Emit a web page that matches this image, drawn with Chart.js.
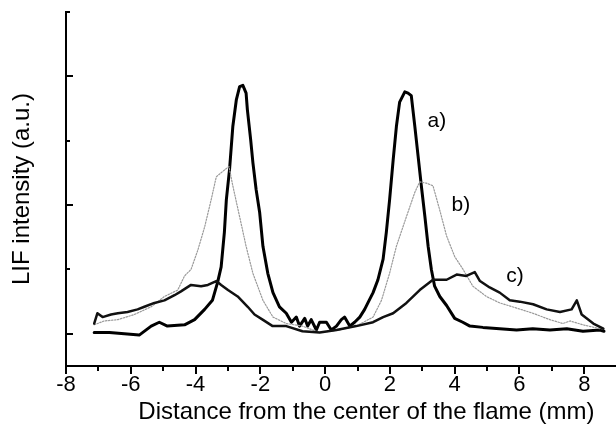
<!DOCTYPE html>
<html>
<head>
<meta charset="utf-8">
<script src="https://cdn.jsdelivr.net/npm/chart.js@4.4.1/dist/chart.umd.min.js"></script>
<style>
  html, body { margin: 0; padding: 0; background: #fff; }
  #wrap { width: 616px; height: 432px; }
</style>
</head>
<body>
<div id="wrap"><canvas id="graficaLIF" width="616" height="432"></canvas></div>
<script>
// curve a) - thick black, sharp peaks
const xA = [-7.13, -6.66, -6.20, -5.74, -5.37, -5.12, -4.87, -4.34, -4.03, -3.72, -3.48, -3.32, -3.21, -3.11, -3.05,
  -2.95, -2.85, -2.74, -2.64, -2.54, -2.44, -2.40, -2.30, -2.23, -2.13, -2.02, -1.92, -1.77, -1.61, -1.41, -1.20,
  -1.04, -0.89, -0.79, -0.63, -0.54, -0.43, -0.27, -0.17, 0.04, 0.19, 0.35, 0.50, 0.60, 0.76, 0.91, 1.07, 1.22,
  1.32, 1.48, 1.63, 1.79, 1.89, 1.99, 2.10, 2.20, 2.30, 2.46, 2.56, 2.66, 2.77, 2.87, 2.97, 3.08, 3.18, 3.28, 3.38,
  3.54, 3.75, 4.00, 4.25, 4.47, 4.87, 5.39, 5.91, 6.41, 6.94, 7.46, 7.96, 8.48, 8.61];
const yA = [0.01, 0.01, 0.00, -0.01, 0.06, 0.09, 0.06, 0.07, 0.11, 0.19, 0.26, 0.40, 0.52, 0.79, 1.04,
  1.28, 1.61, 1.82, 1.92, 1.93, 1.87, 1.74, 1.51, 1.33, 1.12, 0.94, 0.68, 0.47, 0.32, 0.21, 0.16,
  0.09, 0.13, 0.06, 0.12, 0.06, 0.11, 0.03, 0.09, 0.09, 0.03, 0.06, 0.11, 0.13, 0.06, 0.09, 0.13, 0.19,
  0.24, 0.32, 0.42, 0.58, 0.79, 1.04, 1.35, 1.61, 1.80, 1.88, 1.87, 1.85, 1.61, 1.38, 1.15, 0.91, 0.68, 0.50, 0.37,
  0.29, 0.22, 0.12, 0.09, 0.06, 0.05, 0.04, 0.03, 0.04, 0.03, 0.04, 0.02, 0.03, 0.02];

// curve b) - grey dotted
const xB = [-7.13, -6.82, -6.40, -5.89, -5.37, -4.96, -4.55, -4.34, -4.14, -3.93, -3.72, -3.52, -3.36, -3.17, -2.97,
  -2.85, -2.64, -2.44, -2.23, -1.92, -1.61, -1.20, -0.70, -0.17, 0.45, 0.96, 1.48, 1.74, 1.99, 2.20, 2.51, 2.77,
  2.92, 3.13, 3.33, 3.54, 3.75, 4.00, 4.26, 4.56, 4.98, 5.39, 5.91, 6.41, 6.94, 7.34, 7.56, 7.96, 8.48, 8.61];
const yB = [0.07, 0.10, 0.11, 0.15, 0.21, 0.29, 0.34, 0.45, 0.50, 0.65, 0.83, 1.04, 1.22, 1.26, 1.30,
  1.15, 0.91, 0.68, 0.47, 0.26, 0.13, 0.08, 0.06, 0.01, 0.03, 0.06, 0.13, 0.26, 0.47, 0.68, 0.91, 1.10,
  1.18, 1.17, 1.15, 0.96, 0.76, 0.60, 0.50, 0.37, 0.29, 0.24, 0.20, 0.16, 0.11, 0.08, 0.10, 0.07, 0.04, 0.04];

// curve c) - black, broad bumps
const xC = [-7.13, -7.03, -6.87, -6.61, -6.40, -6.10, -5.79, -5.58, -5.27, -4.96, -4.65, -4.45, -4.14, -3.83, -3.62,
  -3.36, -3.21, -3.00, -2.70, -2.39, -2.18, -1.93, -1.62, -1.20, -0.70, -0.17, 0.35, 0.96, 1.48, 1.79, 2.10, 2.51,
  2.92, 3.33, 3.75, 4.06, 4.36, 4.62, 4.78, 5.08, 5.39, 5.70, 6.01, 6.42, 6.84, 7.25, 7.61, 7.77, 7.92, 8.28, 8.59];
const yC = [0.08, 0.16, 0.13, 0.15, 0.16, 0.17, 0.19, 0.21, 0.24, 0.26, 0.30, 0.33, 0.38, 0.37, 0.38,
  0.41, 0.38, 0.34, 0.29, 0.21, 0.15, 0.11, 0.06, 0.06, 0.02, 0.01, 0.03, 0.06, 0.09, 0.13, 0.16, 0.24,
  0.34, 0.42, 0.42, 0.46, 0.45, 0.48, 0.41, 0.36, 0.32, 0.26, 0.25, 0.23, 0.19, 0.17, 0.19, 0.26, 0.15, 0.08, 0.04];

const xTicks = [-8, -6, -4, -2, 0, 2, 4, 6, 8];
const xMinor = [-7, -5, -3, -1, 1, 3, 5, 7, 9];
const yTicks = [0, 1, 2];
const yMinor = [0.5, 1.5, 2.5];
const curveNames = ['a)', 'b)', 'c)'];
const xTitle = 'Distance from the center of the flame (mm)';
const yTitle = 'LIF intensity (a.u.)';

const fontFam = '"Liberation Sans", Arial, Helvetica, sans-serif';
const pares = (xs, ys) => xs.map((v, i) => ({ x: v, y: ys[i] }));

// where the a) b) c) tags sit, in axis units
const tagX = [3.45, 4.19, 5.86];
const tagY = [1.65, 1.0, 0.45];

// hand drawn tick marks (x ticks go down, y ticks go into the plot),
// curve tags and the x title (the original axis runs past the crop, so it is off-centre)
const marcas = {
  id: 'marcas',
  afterDraw(chart) {
    const { ctx, scales: { x, y } } = chart;
    ctx.save();
    ctx.strokeStyle = '#000';
    ctx.lineWidth = 2;
    ctx.beginPath();
    xTicks.forEach(v => { const p = Math.round(x.getPixelForValue(v)); ctx.moveTo(p, x.top); ctx.lineTo(p, x.top + 8); });
    xMinor.forEach(v => { const p = Math.round(x.getPixelForValue(v)); ctx.moveTo(p, x.top); ctx.lineTo(p, x.top + 5); });
    yTicks.forEach(v => { const p = Math.round(y.getPixelForValue(v)); ctx.moveTo(y.right, p); ctx.lineTo(y.right + 7, p); });
    yMinor.forEach(v => { const p = Math.round(y.getPixelForValue(v)); ctx.moveTo(y.right, p); ctx.lineTo(y.right + 4, p); });
    ctx.stroke();

    ctx.fillStyle = '#000';
    ctx.textAlign = 'center';
    ctx.textBaseline = 'middle';
    ctx.font = '21px ' + fontFam;
    curveNames.forEach((t, i) => ctx.fillText(t, x.getPixelForValue(tagX[i]), y.getPixelForValue(tagY[i])));

    ctx.font = '24px ' + fontFam;
    ctx.fillText(xTitle, (x.getPixelForValue(-8) + x.getPixelForValue(10.55)) / 2, x.bottom - 20);
    ctx.restore();
  }
};

Chart.defaults.color = '#000';
Chart.defaults.font.family = fontFam;

new Chart(document.getElementById('graficaLIF'), {
  type: 'line',
  data: {
    datasets: [
      { label: 'c)', data: pares(xC, yC), borderColor: '#111', borderWidth: 2.5 },
      { label: 'b)', data: pares(xB, yB), borderColor: '#9a9a9a', borderWidth: 1.2, borderDash: [1.5, 1.5] },
      { label: 'a)', data: pares(xA, yA), borderColor: '#000', borderWidth: 3 }
    ]
  },
  options: {
    responsive: false,
    animation: false,
    events: [],
    elements: { point: { radius: 0 }, line: { tension: 0, borderJoinStyle: 'round', borderCapStyle: 'round' } },
    layout: { padding: { top: 12, right: 0, bottom: 0, left: 0 } },
    plugins: { legend: { display: false }, tooltip: { enabled: false } },
    scales: {
      x: {
        type: 'linear',
        min: -8,
        max: 8.98,
        afterBuildTicks: s => { s.ticks = xTicks.map(v => ({ value: v })); },
        afterFit: s => { s.height = 66; s.paddingLeft = 0; s.paddingRight = 0; },
        grid: { display: false, drawTicks: false },
        border: { display: true, color: '#000', width: 2 },
        ticks: { padding: 6, font: { size: 22 }, maxRotation: 0, callback: v => String(v) },
        title: { display: false }
      },
      y: {
        type: 'linear',
        min: -0.25,
        max: 2.5,
        afterFit: s => { s.width = 66; s.paddingTop = 0; s.paddingBottom = 0; },
        grid: { display: false, drawTicks: false },
        border: { display: true, color: '#000', width: 2 },
        ticks: { display: false },
        title: { display: true, text: yTitle, font: { size: 24 }, padding: { top: 8, bottom: 0 } }
      }
    }
  },
  plugins: [marcas]
});
</script>
</body>
</html>
